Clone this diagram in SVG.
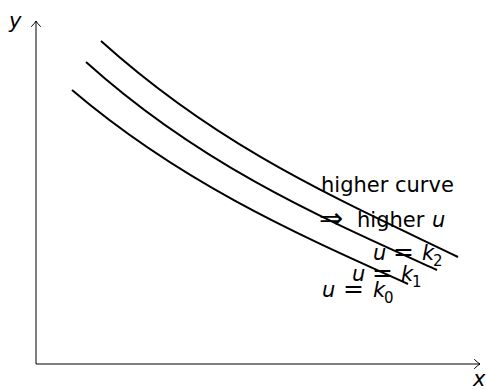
<svg xmlns="http://www.w3.org/2000/svg" width="486" height="389" viewBox="0 0 486 389">
<style>
.axis{stroke:#000;stroke-width:1;fill:none}
.head{stroke:#000;stroke-width:1;fill:none;stroke-linecap:round}
.curve{stroke:#000;stroke-width:2;fill:none}
text{font-family:"DejaVu Sans",sans-serif;font-size:21px;fill:#000}
.it{font-style:oblique}
.sub{font-size:15px}
.op{font-size:25px}
.arr{font-size:29px}
</style>
<rect width="486" height="389" fill="#fff"/>
<g id="axes">
<line class="axis" x1="36" y1="364" x2="36" y2="21"/>
<path class="head" d="M31.5,26.5 Q35,23 36,21 Q37,23 40.5,26.5"/>
<line class="axis" x1="36" y1="364" x2="480" y2="364"/>
<path class="head" d="M474.5,359.5 Q478,363 480,364 Q478,365 474.5,368.5"/>
<text id="ylabel" class="it" x="9" y="28">y</text>
<text id="xlabel" class="it" x="473" y="386">x</text>
</g>
<g id="curves">
<path id="k2" class="curve" d="M101,41 C221,149 338,199 458,257"/>
<path id="k1" class="curve" d="M86,62 C201,165.5 322,218 437,270"/>
<path id="k0" class="curve" d="M72,90 C182,183.5 298,234.5 408,284"/>
</g>
<g id="labels">
<text x="321" y="192">higher curve</text>
<text y="228"><tspan class="arr" x="319">⇒</tspan><tspan x="357" y="227">higher</tspan><tspan class="it" x="432">u</tspan></text>
<text y="260"><tspan class="it" x="373">u</tspan><tspan class="op" x="393">=</tspan><tspan class="it" x="422">k</tspan><tspan class="sub" x="433" y="266">2</tspan></text>
<text y="281"><tspan class="it" x="352">u</tspan><tspan class="op" x="372">=</tspan><tspan class="it" x="401">k</tspan><tspan class="sub" x="412" y="287">1</tspan></text>
<text y="297"><tspan class="it" x="322">u</tspan><tspan class="op" x="343">=</tspan><tspan class="it" x="373">k</tspan><tspan class="sub" x="384" y="303">0</tspan></text>
</g>
</svg>
